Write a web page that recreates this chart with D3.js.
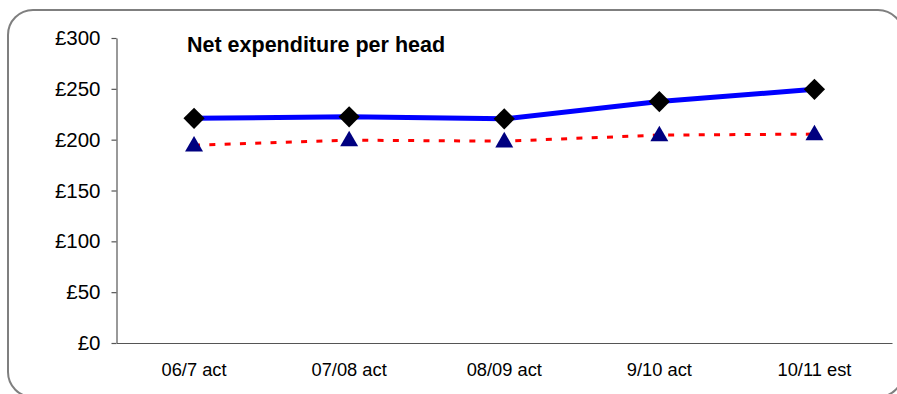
<!DOCTYPE html>
<html><head><meta charset="utf-8">
<script src="https://cdn.jsdelivr.net/npm/d3@7/dist/d3.min.js"></script>
<style>html,body{margin:0;padding:0;background:#fff;}svg{display:block;}</style>
</head><body>
<script>
const categories = ["06/7 act", "07/08 act", "08/09 act", "9/10 act", "10/11 est"];
const seriesA = [221, 222.5, 220.5, 237.5, 249.5];
const seriesB = [194.5, 199.5, 198.5, 204.5, 205.5];
const yTicks = [0, 50, 100, 150, 200, 250, 300];
const yTickLabels = ["£0", "£50", "£100", "£150", "£200", "£250", "£300"];
const title = "Net expenditure per head";

(function () {
const W = 897, H = 394;
const svg = d3.select("body").append("svg").attr("width", W).attr("height", H);

svg.append("rect").attr("x", 8).attr("y", 10).attr("width", 895).attr("height", 387)
  .attr("rx", 25).attr("ry", 25).attr("fill", "#fff").attr("stroke", "#7f7f7f").attr("stroke-width", 2);

const pLeft = 116.5, pRight = 892, pTop = 38, pBottom = 343;
const x = d3.scaleBand().domain(categories).range([pLeft, pRight]);
const y = d3.scaleLinear().domain([0, 300]).range([pBottom, pTop]);

const font = "'Liberation Sans', Arial, sans-serif";

const yAxis = svg.append("g").attr("transform", `translate(${pLeft},0)`)
  .call(d3.axisLeft(y).tickValues(yTicks).tickFormat((d, i) => yTickLabels[i]).tickSize(5).tickSizeOuter(0).tickPadding(11));
yAxis.select(".domain").attr("stroke", "#555").attr("stroke-width", 1.2);
yAxis.selectAll(".tick line").attr("stroke", "#555").attr("stroke-width", 1.2);
yAxis.selectAll("text").attr("font-family", font).attr("font-size", 20.5).attr("fill", "#000");

const xAxis = svg.append("g").attr("transform", `translate(0,${pBottom})`)
  .call(d3.axisBottom(x).tickSize(0).tickSizeOuter(0).tickPadding(20));
xAxis.select(".domain").attr("stroke", "#555").attr("stroke-width", 1.2);
xAxis.selectAll("text").attr("font-family", font).attr("font-size", 18.3).attr("fill", "#000");

const cx = d => x(d) + x.bandwidth() / 2;

const lineA = d3.line().x((d, i) => cx(categories[i])).y(d => y(d));
svg.append("path").datum(seriesA).attr("d", lineA).attr("fill", "none")
  .attr("stroke", "#0000ff").attr("stroke-width", 5);
svg.append("path").datum(seriesB).attr("d", lineA).attr("fill", "none")
  .attr("stroke", "#ff0000").attr("stroke-width", 3).attr("stroke-dasharray", "6,9.3");

const diamond = d3.symbol().type(d3.symbolSquare).size(15 * 15);
svg.selectAll(".dA").data(seriesA).enter().append("path")
  .attr("d", diamond)
  .attr("transform", (d, i) => `translate(${cx(categories[i])},${y(d)}) rotate(45)`)
  .attr("fill", "#000");

const tri = d3.symbol().type(d3.symbolTriangle).size(140);
svg.selectAll(".tB").data(seriesB).enter().append("path")
  .attr("d", tri)
  .attr("transform", (d, i) => `translate(${cx(categories[i])},${y(d) + 1})`)
  .attr("fill", "#000080");

svg.append("text").attr("x", 187).attr("y", 52).text(title)
  .attr("font-family", font).attr("font-size", 21.5).attr("font-weight", "bold").attr("fill", "#000");
})();
</script>
</body></html>
